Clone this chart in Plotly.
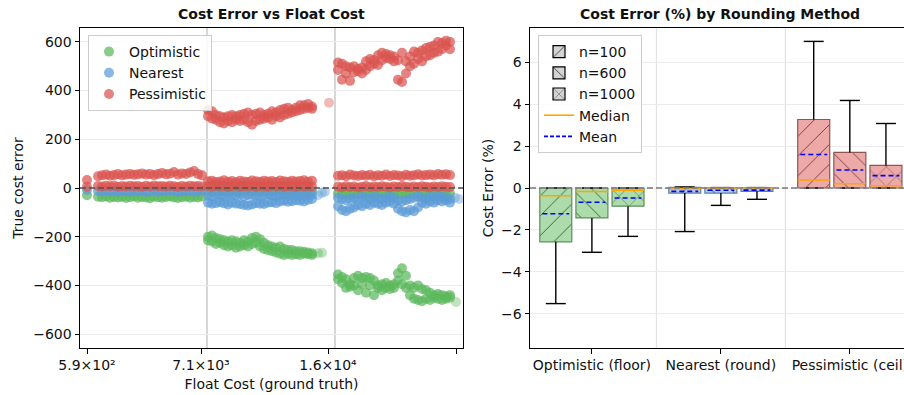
import plotly.graph_objects as go

# ---------------- Left panel data (position index along float-cost axis, cost error) -------------
X_TICKVALS = [0, 114, 241, 369]
X_TICKTEXT = ["5.9×10²", "7.1×10³", "1.6×10⁴", ""]
GROUP_SEPARATORS = [120, 248]

G1_X = [0, 11, 15, 19, 23, 27, 31, 35, 39, 43, 47, 51, 55, 59, 63, 67, 71, 75, 79, 83, 87, 91, 95, 99, 103, 107, 111, 115]
PES_G1_HI = [33, 48, 52, 55, 50, 53, 57, 52, 55, 58, 54, 56, 60, 55, 58, 53, 57, 62, 56, 59, 66, 55, 60, 58, 64, 70, 57, 52]
PES_G1_LO = [5, 8, 6, 9, 7, 10, 5, 8, 6, 9, 7, 8, 5, 9, 6, 10, 7, 8, 6, 9, 7, 5, 8, 6, 9, 7, 8, 6]
NEA_G1 = [-8, -12, -15, -10, -14, -12, -16, -11, -13, -15, -10, -14, -12, -16, -13, -11, -15, -12, -14, -10, -13, -16, -12, -14, -11, -15, -13, -12]
OPT_G1 = [-30, -36, -38, -35, -40, -37, -39, -36, -41, -38, -35, -40, -37, -39, -42, -36, -38, -40, -37, -35, -39, -41, -38, -36, -40, -37, -39, -35]

G2_X = [121, 125, 129, 133, 137, 141, 145, 149, 153, 157, 161, 165, 169, 173, 177, 181, 185, 189, 193, 197, 201, 205, 209, 213, 217, 221, 225]
PES_G2_HI_A = [320, 315, 300, 295, 290, 295, 300, 295, 300, 305, 310, 300, 305, 310, 300, 305, 315, 310, 320, 325, 330, 320, 330, 340, 340, 345, 335]
PES_G2_HI_B = [295, 285, 280, 270, 265, 275, 270, 280, 275, 280, 270, 260, 275, 280, 285, 290, 280, 295, 290, 300, 305, 310, 315, 320, 325, 330, 325]
PES_G2_LO_A = [28, 30, 25, 27, 32, 26, 29, 24, 30, 27, 25, 31, 28, 26, 30, 27, 29, 25, 31, 28, 26, 30, 27, 29, 32, 26, 30]
PES_G2_LO_B = [8, 5, 10, 6, 9, 4, 7, 10, 5, 8, 6, 9, 4, 8, 7, 5, 10, 6, 9, 5, 8, 7, 4, 9, 6, 8, 5]
NEA_G2_A = [-30, -35, -25, -30, -35, -28, -32, -30, -25, -35, -30, -28, -32, -35, -30, -25, -30, -35, -28, -30, -25, -30, -28, -32, -25, -30, -28]
NEA_G2_B = [-60, -65, -62, -58, -63, -68, -60, -64, -66, -70, -72, -68, -62, -65, -66, -60, -58, -62, -55, -52, -56, -54, -50, -52, -55, -48, -45]
OPT_G2_SM = [-12, -15, -10, -14, -12, -16, -11, -13, -15, -10, -14, -12, -16, -13, -11, -15, -12, -14, -10, -13, -16, -12, -14, -11, -15, -13, -12]
OPT_G2_A = [-200, -195, -205, -210, -215, -220, -215, -220, -225, -215, -220, -205, -200, -210, -225, -235, -240, -245, -240, -250, -255, -255, -260, -260, -262, -265, -268]
OPT_G2_B = [-215, -220, -230, -225, -235, -240, -235, -245, -240, -235, -240, -230, -225, -240, -250, -255, -260, -265, -270, -275, -270, -275, -272, -275, -270, -272, -275]

G3_X = [251, 255, 259, 263, 267, 271, 275, 279, 283, 287, 291, 295, 299, 303, 307, 311, 315, 319, 323, 327, 331, 335, 339, 343, 347, 351, 355, 359, 363]
PES_G3_HI_A = [515, 510, 500, 495, 500, 490, 495, 520, 530, 525, 545, 555, 550, 545, 540, 525, 555, 520, 540, 560, 555, 565, 575, 580, 585, 600, 595, 605, 600]
PES_G3_HI_B = [485, 445, 470, 440, 475, 480, 470, 485, 500, 510, 505, 525, 535, 530, 520, 445, 435, 470, 500, 510, 530, 520, 540, 545, 555, 560, 570, 585, 570]
PES_G3_MID = [50, 52, 48, 55, 51, 49, 53, 50, 54, 48, 52, 50, 55, 49, 53, 51, 48, 54, 50, 52, 56, 51, 53, 55, 52, 57, 54, 56, 53]
PES_G3_LO = [5, 3, 7, 4, 6, 2, 5, 8, 3, 6, 4, 7, 5, 3, 6, 4, 8, 5, 3, 6, 4, 7, 5, 3, 6, 4, 7, 5, 4]
OPT_G3_SM = [-22, -25, -20, -28, -24, -26, -21, -27, -23, -25, -20, -26, -24, -22, -28, -25, -21, -27, -23, -26, -24, -20, -25, -22, -27, -24, -21, -26, -23]
NEA_G3_A = [-40, -45, -50, -45, -40, -45, -35, -40, -45, -35, -40, -45, -40, -35, -40, -50, -55, -50, -45, -40, -35, -40, -45, -35, -40, -30, -35, -40, -45]
NEA_G3_B = [-75, -90, -95, -85, -80, -70, -75, -65, -70, -60, -65, -70, -60, -55, -65, -85, -95, -100, -90, -95, -80, -60, -65, -55, -60, -50, -55, -50, -60]
OPT_G3_A = [-355, -365, -375, -395, -370, -360, -370, -365, -370, -380, -400, -395, -390, -400, -395, -350, -330, -360, -400, -410, -400, -415, -420, -430, -440, -435, -440, -445, -440]
OPT_G3_B = [-375, -390, -410, -405, -400, -420, -395, -430, -400, -440, -410, -420, -410, -415, -410, -380, -395, -410, -440, -455, -460, -465, -455, -460, -450, -455, -460, -455, -450]

# sparse outlying points (drawn fainter)
PES_FAINT_X = [242]
PES_FAINT_Y = [350]
NEA_FAINT_X = [231, 235, 238, 368, 372]
NEA_FAINT_Y = [-30, -20, -15, -40, -45]
OPT_FAINT_X = [231, 235, 369]
OPT_FAINT_Y = [-268, -266, -468]

# ---------------- Right panel data (cost error %, per method x sample size) -------------
METHODS = ["Optimistic (floor)", "Nearest (round)", "Pessimistic (ceil)"]
N_LABELS = ["n=100", "n=600", "n=1000"]
Q1 = [[-2.57, -1.43, -0.87], [-0.24, -0.24, -0.16], [0.0, 0.0, 0.0]]
Q3 = [[0.0, 0.0, 0.0], [0.03, 0.02, 0.02], [3.27, 1.70, 1.08]]
MEDIAN = [[-0.37, -0.17, -0.10], [-0.03, 0.0, 0.0], [0.38, 0.20, 0.11]]
MEAN = [[-1.23, -0.68, -0.48], [-0.16, -0.11, -0.10], [1.60, 0.86, 0.59]]
WHISK_LO = [[-5.52, -3.07, -2.31], [-2.08, -0.83, -0.54], [0.0, 0.0, 0.0]]
WHISK_HI = [[0.0, 0.0, 0.0], [0.05, 0.02, 0.02], [7.0, 4.18, 3.08]]

# ---------------- styles -------------
GREEN, BLUE, RED = "#5cb85c", "#5b9bd5", "#d9534f"
FILLS = ["#acdcab", "#adcdea", "#eca9a7"]
EDGES = ["#5d8f5c", "#5f7f9f", "#8f5553"]
HATCH_FG = ["rgba(40,70,40,0.8)", "rgba(40,55,80,0.8)", "rgba(90,40,40,0.8)"]
HATCH = ["/", "\\", "x"]
OFFS = [-0.28, 0.0, 0.28]
BOX_W = 0.248
CAP_W = 0.155
FONT = "DejaVu Sans"

fig = go.Figure()


def scat(xs, ys, color, name=None, show=False, opacity=0.72):
    fig.add_trace(go.Scatter(
        x=xs, y=ys, mode="markers", xaxis="x", yaxis="y",
        marker=dict(color=color, size=10, opacity=opacity, line=dict(width=0)),
        name=name, showlegend=show, legend="legend", hoverinfo="skip"))


# Optimistic (green)
scat(G1_X + G2_X + G2_X + G2_X + G3_X + G3_X + G3_X,
     OPT_G1 + OPT_G2_SM + OPT_G2_A + OPT_G2_B + OPT_G3_SM + OPT_G3_A + OPT_G3_B,
     GREEN, "Optimistic", True)
scat(OPT_FAINT_X, OPT_FAINT_Y, GREEN, opacity=0.4)
# Nearest (blue)
scat(G1_X + G2_X + G2_X + G3_X + G3_X,
     NEA_G1 + NEA_G2_A + NEA_G2_B + NEA_G3_A + NEA_G3_B,
     BLUE, "Nearest", True)
scat(NEA_FAINT_X, NEA_FAINT_Y, BLUE, opacity=0.4)
# Pessimistic (red)
scat(G1_X + G1_X + G2_X + G2_X + G2_X + G2_X + G3_X + G3_X + G3_X + G3_X,
     PES_G1_HI + PES_G1_LO + PES_G2_HI_A + PES_G2_HI_B + PES_G2_LO_A + PES_G2_LO_B
     + PES_G3_HI_A + PES_G3_HI_B + PES_G3_MID + PES_G3_LO,
     RED, "Pessimistic", True)
scat(PES_FAINT_X, PES_FAINT_Y, RED, opacity=0.4)

# ---------------- right panel boxes -------------
wx, wy, mx, my, ex, ey = [], [], [], [], [], []
for i in range(len(METHODS)):
    for j in range(len(N_LABELS)):
        c = i + OFFS[j]
        fig.add_trace(go.Bar(
            x=[c], y=[Q3[i][j] - Q1[i][j]], base=[Q1[i][j]], width=BOX_W, xaxis="x2", yaxis="y2",
            marker=dict(color=FILLS[i], line=dict(color=EDGES[i], width=1.2),
                        pattern=dict(shape=HATCH[j], bgcolor=FILLS[i], fgcolor=HATCH_FG[i],
                                     size=14, solidity=0.07, fillmode="replace")),
            showlegend=False, hoverinfo="skip"))
        # whiskers + caps
        wx += [c, c, None, c, c, None,
               c - CAP_W / 2, c + CAP_W / 2, None, c - CAP_W / 2, c + CAP_W / 2, None]
        wy += [Q1[i][j], WHISK_LO[i][j], None, Q3[i][j], WHISK_HI[i][j], None,
               WHISK_LO[i][j], WHISK_LO[i][j], None, WHISK_HI[i][j], WHISK_HI[i][j], None]
        mx += [c - BOX_W / 2, c + BOX_W / 2, None]
        my += [MEDIAN[i][j], MEDIAN[i][j], None]
        ex += [c - BOX_W * 0.42, c + BOX_W * 0.42, None]
        ey += [MEAN[i][j], MEAN[i][j], None]

fig.add_trace(go.Scatter(x=wx, y=wy, mode="lines", xaxis="x2", yaxis="y2",
                         line=dict(color="black", width=1.4), showlegend=False, hoverinfo="skip"))
fig.add_trace(go.Scatter(x=mx, y=my, mode="lines", xaxis="x2", yaxis="y2",
                         line=dict(color="orange", width=1.6), showlegend=False, hoverinfo="skip"))
fig.add_trace(go.Scatter(x=ex, y=ey, mode="lines", xaxis="x2", yaxis="y2",
                         line=dict(color="blue", width=1.6, dash="5px,3px"), showlegend=False, hoverinfo="skip"))

# legend entries for right panel
for j, lab in enumerate(N_LABELS):
    fig.add_trace(go.Bar(
        x=[None], y=[None], xaxis="x2", yaxis="y2", name=lab, legend="legend2",
        marker=dict(color="#d3d3d3", line=dict(color="black", width=1.2),
                    pattern=dict(shape=HATCH[j], bgcolor="#d3d3d3", fgcolor="#333333",
                                 size=10, solidity=0.1, fillmode="replace"))))
fig.add_trace(go.Scatter(x=[None], y=[None], mode="lines", xaxis="x2", yaxis="y2", name="Median",
                         legend="legend2", line=dict(color="orange", width=1.6)))
fig.add_trace(go.Scatter(x=[None], y=[None], mode="lines", xaxis="x2", yaxis="y2", name="Mean",
                         legend="legend2", line=dict(color="blue", width=1.6, dash="4px,2px")))

W, H = 904, 395
L_X0, L_X1, R_X0 = 80, 463, 530
TOP, BOT = 28, 47

axis_common = dict(showline=True, linecolor="black", linewidth=1, mirror=True, automargin=False,
                   ticks="outside", ticklen=4.5, tickwidth=1, tickcolor="black",
                   tickfont=dict(family=FONT, size=14, color="#111"), zeroline=False,
                   title_font=dict(family=FONT, size=14, color="#111"), ticklabeloverflow="allow")

shapes = []
for s in GROUP_SEPARATORS:
    shapes.append(dict(type="line", xref="x", yref="y domain", x0=s, x1=s, y0=0, y1=1,
                       line=dict(color="#c8c8c8", width=1.5), layer="below"))
for s in [0.5, 1.5]:
    shapes.append(dict(type="line", xref="x2", yref="y2 domain", x0=s, x1=s, y0=0, y1=1,
                       line=dict(color="#dedede", width=1), layer="below"))
shapes.append(dict(type="line", xref="x domain", yref="y", x0=0, x1=1, y0=0, y1=0,
                   line=dict(color="rgba(80,80,80,0.75)", width=2, dash="6px,3px"), layer="above"))
shapes.append(dict(type="line", xref="x2 domain", yref="y2", x0=0, x1=1, y0=0, y1=0,
                   line=dict(color="rgba(128,128,128,0.8)", width=2, dash="6px,3px"), layer="above"))

ph = H - TOP - BOT
fig.update_layout(
    width=W, height=H, margin=dict(l=0, r=0, t=TOP, b=BOT, autoexpand=False),
    paper_bgcolor="white", plot_bgcolor="white", barmode="overlay",
    font=dict(family=FONT, size=14, color="#111"),
    xaxis=dict(domain=[L_X0 / W, L_X1 / W], range=[-7, 376], tickvals=X_TICKVALS, ticktext=X_TICKTEXT,
               showgrid=False, anchor="y",
               title=dict(text="Float Cost (ground truth)", standoff=6), **axis_common),
    yaxis=dict(range=[-657, 657], tickvals=[-600, -400, -200, 0, 200, 400, 600],
               showgrid=True, gridcolor="#ebebeb", anchor="x",
               title=dict(text="True cost error", standoff=6), **axis_common),
    xaxis2=dict(domain=[R_X0 / W, 1.0], range=[-0.48, 2.42], tickvals=[0, 1, 2], ticktext=METHODS,
                showgrid=False, anchor="y2", **axis_common),
    yaxis2=dict(range=[-7.64, 7.64], tickvals=[-6, -4, -2, 0, 2, 4, 6],
                showgrid=True, gridcolor="#ebebeb", anchor="x2",
                title=dict(text="Cost Error (%)", standoff=4), **axis_common),
    legend=dict(x=88 / W, y=1 - (35 - TOP) / ph, xanchor="left", yanchor="top",
                bgcolor="rgba(255,255,255,0.85)", bordercolor="#cccccc", borderwidth=1,
                font=dict(family=FONT, size=14, color="#111"), itemwidth=30),
    legend2=dict(x=538 / W, y=1 - (35 - TOP) / ph, xanchor="left", yanchor="top",
                 bgcolor="rgba(255,255,255,0.85)", bordercolor="#cccccc", borderwidth=1,
                 font=dict(family=FONT, size=14, color="#111"), itemwidth=30, traceorder="normal"),
    shapes=shapes,
    annotations=[
        dict(text="<b>Cost Error vs Float Cost</b>", xref="paper", yref="paper",
             x=(L_X0 + L_X1) / 2 / W, y=1 + (TOP - 14) / ph, xanchor="center", yanchor="middle",
             showarrow=False, font=dict(family=FONT, size=14, color="#111")),
        dict(text="<b>Cost Error (%) by Rounding Method</b>", xref="paper", yref="paper",
             x=720 / W, y=1 + (TOP - 14) / ph, xanchor="center", yanchor="middle",
             showarrow=False, font=dict(family=FONT, size=14, color="#111")),
    ],
)

fig.write_html("out.html", config={"displayModeBar": False},
               post_script="document.body.style.margin='0';document.body.style.overflow='hidden';")
